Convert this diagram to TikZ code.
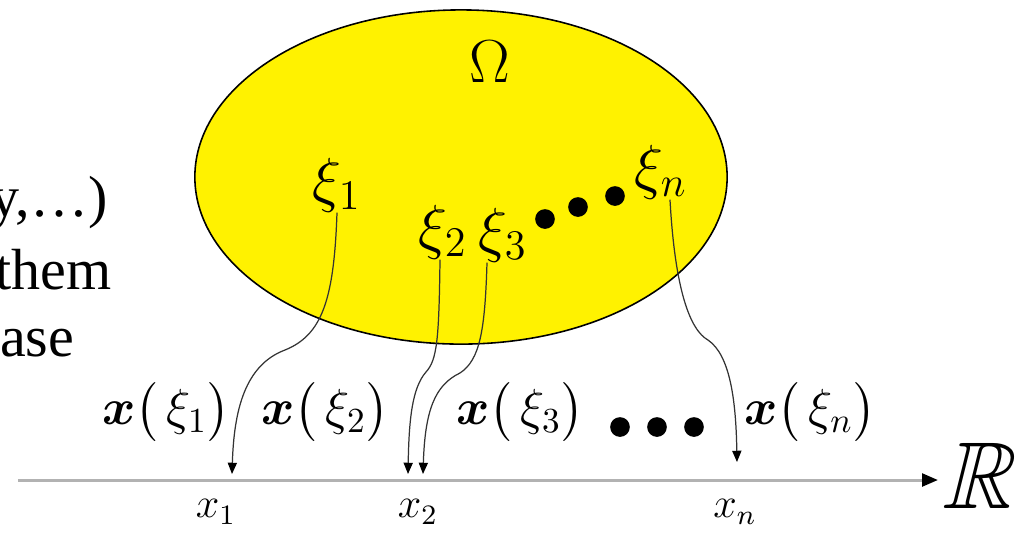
\documentclass[tikz,border=0pt]{standalone}
\usepackage{amsmath,amssymb}
\usepackage{fontspec}
\setmainfont{Liberation Serif}
\usepackage{tikz}
\usetikzlibrary{calc,arrows.meta,shapes.geometric}
\tikzset{
  region/.style={ellipse, draw, fill=yellow, line width=0.45pt, inner sep=0pt,
    minimum width=5.32cm, minimum height=3.34cm},
  sidetext/.style={font=\fontsize{16.5}{19}\selectfont, anchor=base east, inner sep=0pt},
  spoint/.style={font=\fontsize{18}{20}\selectfont, inner sep=0pt},
  imglabel/.style={font=\fontsize{14}{16}\selectfont, inner sep=0pt},
  xval/.style={font=\fontsize{12}{14}\selectfont, inner sep=0pt},
  bigdot/.style={circle, fill=black, inner sep=0pt, minimum size=5.6pt},
  maparrow/.style={line width=0.35pt, draw=black!80,
    -{Triangle[black, length=3.2pt, width=2.6pt]}},
  realaxis/.style={line width=0.85pt, draw=black!30,
    -{Triangle[black, length=4.5pt, width=3.6pt]}},
}
\newcommand{\xof}[1]{$\boldsymbol{x}\bigl(\,\xi_{#1}\bigr)$}

\begin{document}
\begin{tikzpicture}[x=0.01cm, y=-0.01cm]
  \useasboundingbox (0,0) rectangle (1032,538);
  \clip (0,0) rectangle (1032,538);
  % text cut off at the left edge
  \node[sidetext] (line1) at (108,216) {y,\ldots)};
  \node[sidetext] (line2) at (112,289) {them};
  \node[sidetext] (line3) at (75,356) {ase};
  % sample space
  \node[region] (omega) at (461,177) {};
  \node[font=\fontsize{19}{22}\selectfont, inner sep=0pt] (Om) at (490,62) {$\Omega$};
  \node[spoint] (xi1) at (337,185) {$\xi_1$};
  \node[spoint] (xi2) at (443,232) {$\xi_2$};
  \node[spoint] (xi3) at (503,235) {$\xi_3$};
  \node[spoint] (xin) at (661,172) {$\xi_n$};
  \foreach \p [count=\i] in {{545,219},{578,207},{615,196}}
    \node[bigdot] (sdot\i) at (\p) {};
  % images under x
  \node[imglabel] (im1) at (166,412) {\xof{1}};
  \node[imglabel] (im2) at (325,412) {\xof{2}};
  \node[imglabel] (im3) at (520,412) {\xof{3}};
  \node[imglabel] (imn) at (810,412) {\xof{n}};
  \foreach \p [count=\i] in {{620,427},{657,427},{694,427}}
    \node[bigdot] (idot\i) at (\p) {};
  % real line
  \coordinate (axL) at (18,480);
  \coordinate (axR) at (938,480);
  \draw[realaxis] (axL) -- (axR);
  \node[font=\fontsize{27}{29}\selectfont, inner sep=0pt, xslant=0.25] (R) at (985,476) {$\mathbb{R}$};
  \coordinate (p1) at (232,474);
  \coordinate (p2) at (408,474);
  \coordinate (p3) at (423,474);
  \coordinate (pn) at (737,462);
  \node[xval] (x1) at (216,512) {$x_1$};
  \node[xval] (x2) at (418,512) {$x_2$};
  \node[xval] (xn) at (735,512) {$x_n$};
  % the map
  \draw[maparrow] (xi1.south) .. controls (334,300) and (322,335) .. (285,350)
    .. controls (245,365) and (234,410) .. (p1);
  \draw[maparrow] ($(xi2.south)+(-3,0)$) .. controls (439,340) and (437,360) .. (426,372)
    .. controls (412,388) and (409,420) .. (p2);
  \draw[maparrow] ($(xi3.south)+(-16,0)$) .. controls (485,330) and (480,360) .. (460,373)
    .. controls (435,385) and (425,410) .. (p3);
  \draw[maparrow] ($(xin.south)+(9,0)$) .. controls (675,290) and (690,330) .. (708,340)
    .. controls (730,355) and (736,400) .. (pn);
\end{tikzpicture}
\end{document}
